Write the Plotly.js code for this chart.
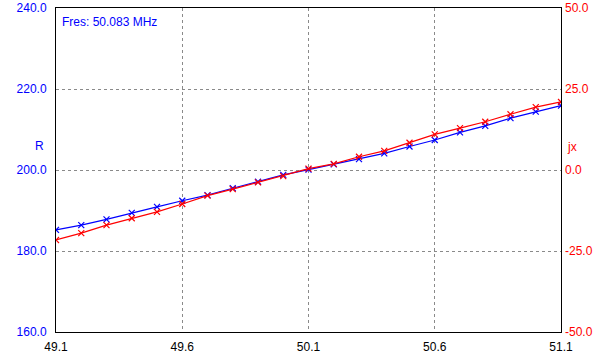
<!DOCTYPE html>
<html><head><meta charset="utf-8">
<script src="https://cdn.plot.ly/plotly-3.0.1.min.js"></script>
<style>html,body{margin:0;padding:0;background:#fff}#chart{width:613px;height:359px}</style>
</head><body><div id="chart"></div>
<script>
const freq = [49.1,49.2,49.3,49.4,49.5,49.6,49.7,49.8,49.9,50.0,50.1,50.2,50.3,50.4,50.5,50.6,50.7,50.8,50.9,51.0,51.1];
const rValues = [185.2,186.4,187.8,189.4,190.9,192.4,193.8,195.5,197.1,198.8,200.1,201.4,202.7,204.1,205.8,207.4,209.3,210.9,212.8,214.4,215.9];
const jxValues = [-21.6,-19.5,-17.0,-14.9,-12.9,-10.5,-7.9,-5.9,-3.8,-1.9,0.4,1.9,4.1,5.9,8.4,11.0,12.9,14.9,17.2,19.4,21.0];
const xTicks = [49.1,49.6,50.1,50.6,51.1];
const xTickText = ["49.1","49.6","50.1","50.6","51.1"];
const rTicks = [160,180,200,220,240];
const rTickText = ["160.0","180.0","200.0","220.0","240.0"];
const jxTicks = [-50,-25,0,25,50];
const jxTickText = ["-50.0","-25.0","0.0","25.0","50.0"];
const fresText = "Fres: 50.083 MHz";

const font = "Arial, 'Liberation Sans', sans-serif";
const traces = [
  {x: freq, y: rValues, type: 'scatter', mode: 'lines+markers', yaxis: 'y',
   line: {color: '#0000ff', width: 1.2},
   marker: {symbol: 'x-thin', size: 6, color: '#0000ff', line: {color: '#0000ff', width: 1.2}}},
  {x: freq, y: jxValues, type: 'scatter', mode: 'lines+markers', yaxis: 'y2',
   line: {color: '#ff0000', width: 1.2},
   marker: {symbol: 'x-thin', size: 6, color: '#ff0000', line: {color: '#ff0000', width: 1.2}}}
];
const layout = {
  width: 613, height: 359,
  margin: {l: 56, r: 52, t: 8, b: 27, pad: 0},
  paper_bgcolor: '#fff', plot_bgcolor: '#fff',
  showlegend: false,
  font: {family: font, size: 12},
  xaxis: {range: [49.1, 51.1], tickvals: xTicks, ticktext: xTickText,
    showgrid: true, gridcolor: '#8a8a8a', griddash: '3px,3px', gridwidth: 1,
    showline: true, linecolor: '#000', linewidth: 1, mirror: true,
    ticks: '', ticklabelstandoff: 4, zeroline: false, tickfont: {color: '#000', size: 12, family: font}},
  yaxis: {range: [160, 240], tickvals: rTicks, ticktext: rTickText,
    showgrid: true, gridcolor: '#8a8a8a', griddash: '3px,3px', gridwidth: 1,
    showline: true, linecolor: '#000', linewidth: 1, mirror: true,
    ticks: 'outside', ticklen: 6, tickcolor: 'rgba(0,0,0,0)', zeroline: false,
    tickfont: {color: '#0000ff', size: 12, family: font}},
  yaxis2: {range: [-50, 50], tickvals: jxTicks, ticktext: jxTickText,
    overlaying: 'y', side: 'right', showgrid: false, zeroline: false,
    showline: false, ticks: '', ticklabelstandoff: 3, tickfont: {color: '#ff0000', size: 12, family: font}},
  annotations: [
    {text: fresText, xref: 'paper', yref: 'paper', x: 0.008, y: 0.985, xanchor: 'left', yanchor: 'top',
     showarrow: false, font: {color: '#0000ff', size: 12, family: font}},
    {text: 'R', xref: 'paper', yref: 'paper', x: -0.02, y: 0.575, xanchor: 'right', yanchor: 'middle',
     showarrow: false, font: {color: '#0000ff', size: 12, family: font}},
    {text: 'jx', xref: 'paper', yref: 'paper', x: 1.008, y: 0.57, xanchor: 'left', yanchor: 'middle',
     showarrow: false, font: {color: '#ff0000', size: 12, family: font}}
  ]
};
Plotly.newPlot('chart', traces, layout, {displayModeBar: false, staticPlot: true});
</script></body></html>
